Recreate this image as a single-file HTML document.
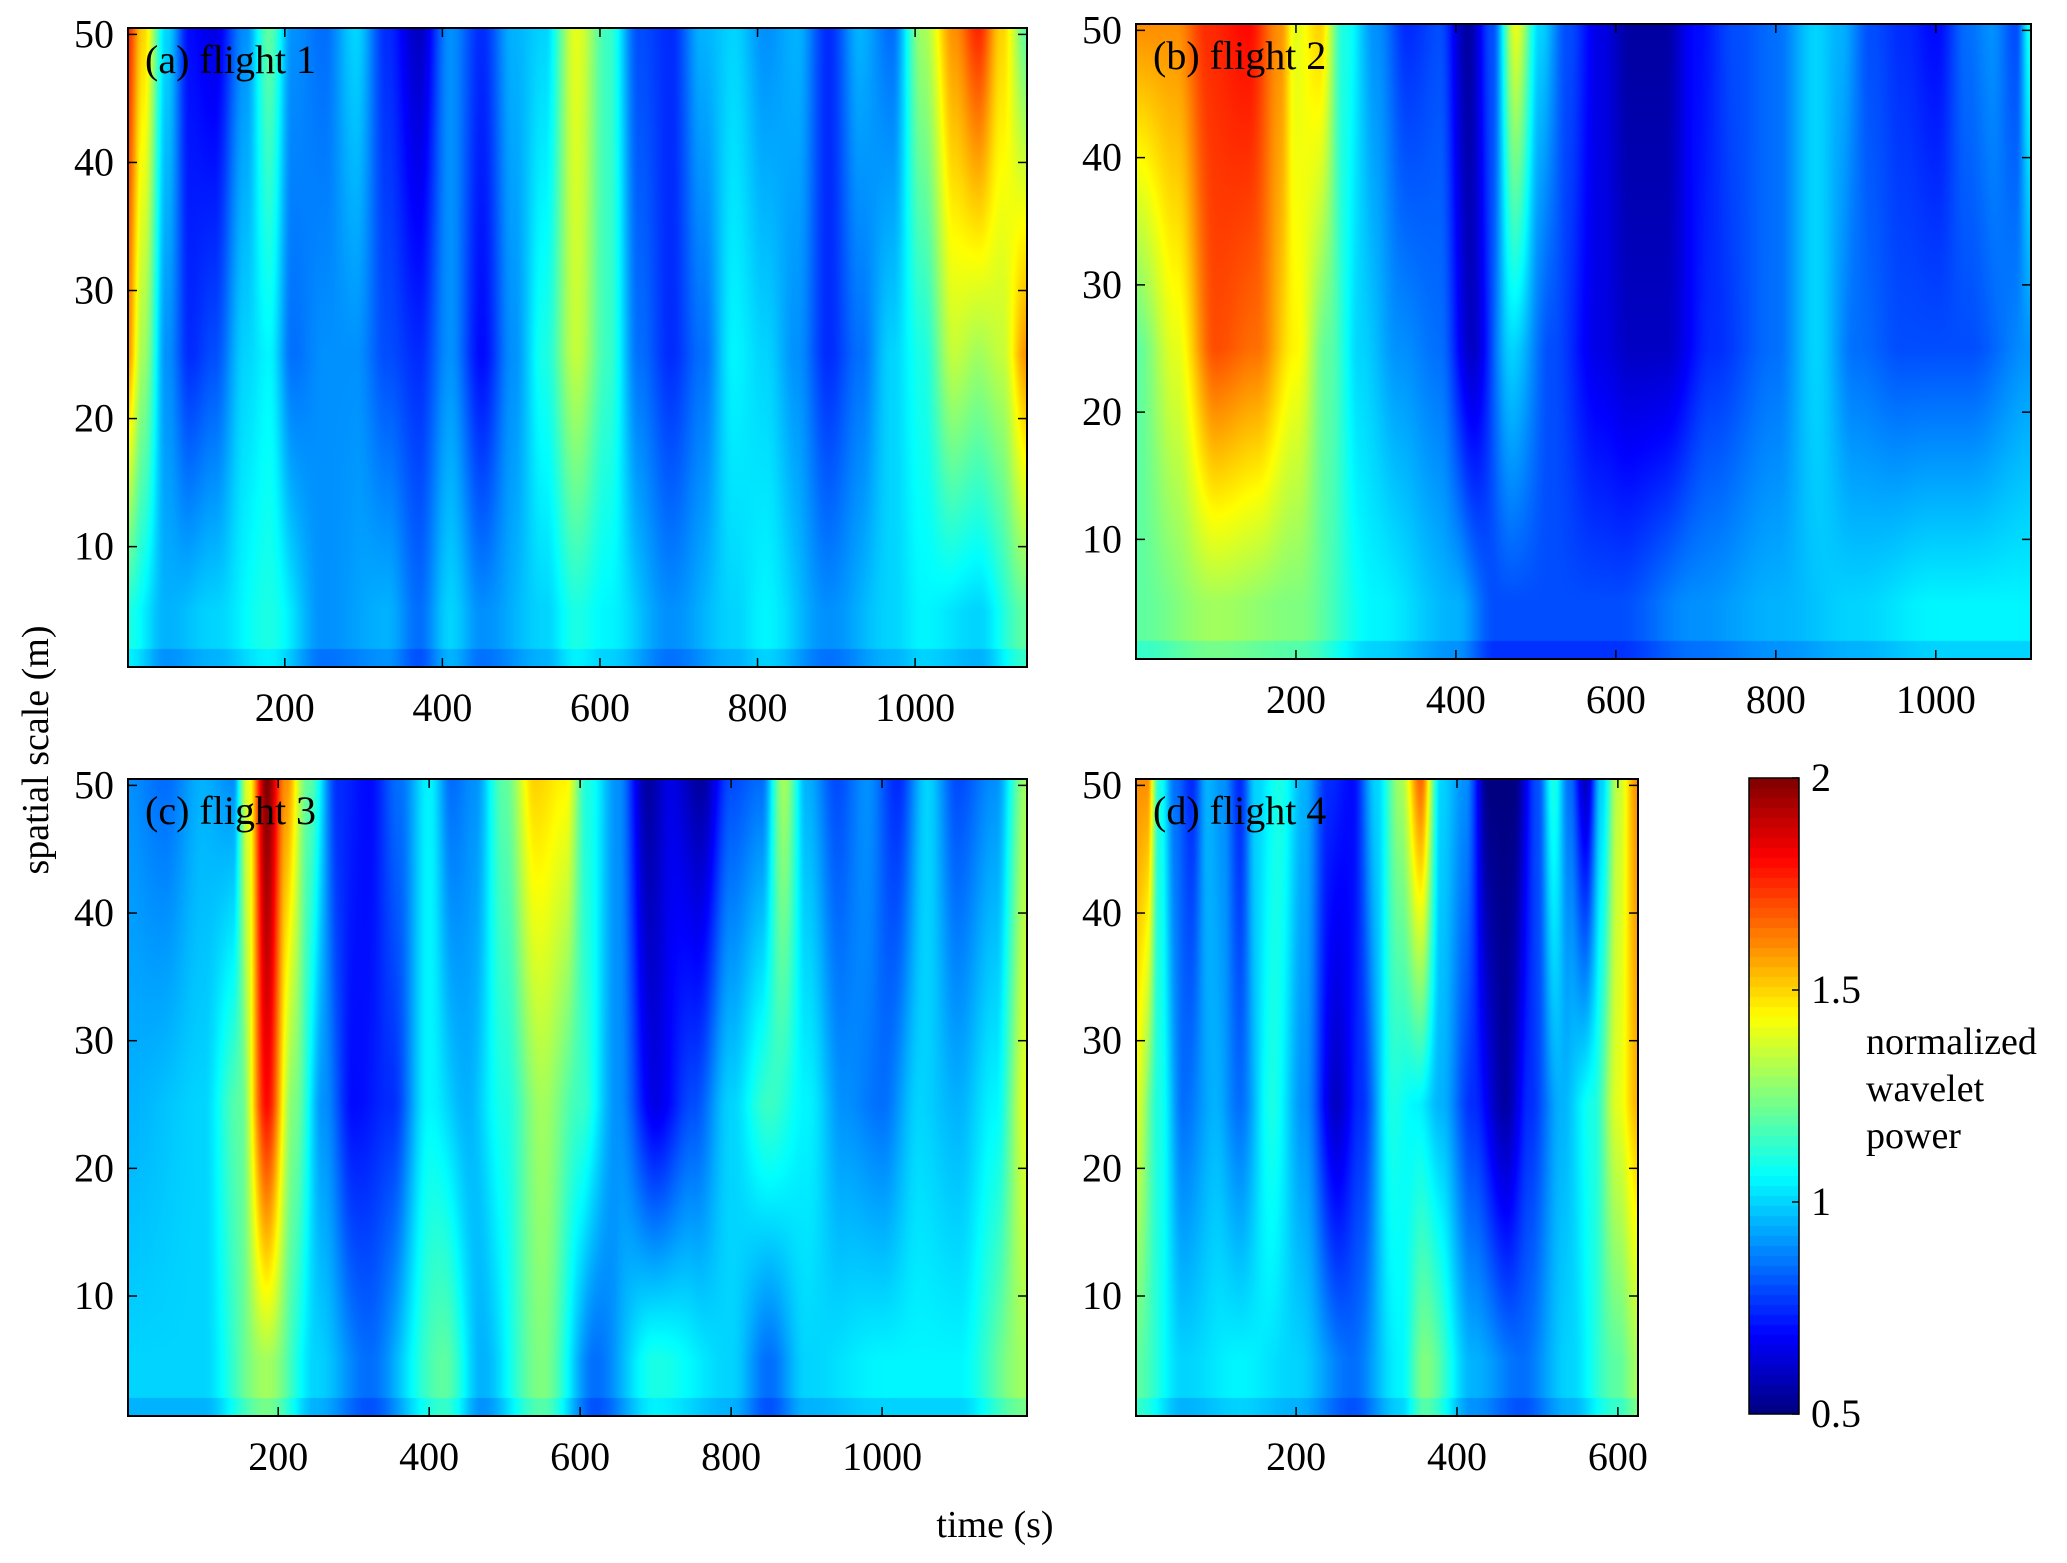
<!DOCTYPE html>
<html><head><meta charset="utf-8"><style>
body{margin:0;background:#fff;width:2067px;height:1563px;overflow:hidden;position:relative;font-family:"Liberation Serif",serif}
canvas{position:absolute}
svg{position:absolute;left:0;top:0;font-family:"Liberation Serif",serif}
</style></head><body>
<canvas id="ca"></canvas>
<canvas id="cb"></canvas>
<canvas id="cc"></canvas>
<canvas id="cd"></canvas>
<canvas id="cbar"></canvas>
<svg id="ov" width="2067" height="1563" font-family="Liberation Serif, serif"></svg>
<script>
// rows: [time, normalized wavelet power] at scale 50 m (top), 25 m (mid), 5 m (low)
const aTop=[[0,1.75],[20,1.5],[50,1.0],[80,0.7],[110,0.65],[150,0.9],[180,1.2],[210,0.9],[250,0.85],[290,1.0],[330,0.75],[370,0.6],[410,0.9],[450,0.75],[490,0.95],[530,1.0],[570,1.4],[610,1.15],[650,0.8],[690,0.75],[730,0.95],[770,1.0],[810,0.9],[850,0.95],[890,0.75],[930,0.95],[970,0.85],[1010,1.3],[1050,1.6],[1080,1.75],[1110,1.5],[1142,1.2]];
const aMid=[[0,1.6],[20,1.3],[50,0.9],[80,0.75],[110,0.8],[150,1.0],[180,1.05],[210,0.85],[250,0.9],[290,0.9],[330,0.8],[370,0.75],[410,0.9],[450,0.7],[490,0.9],[530,1.1],[570,1.35],[610,1.15],[650,0.85],[690,0.75],[730,0.85],[770,1.05],[810,1.0],[850,0.9],[890,0.75],[930,0.85],[970,1.0],[1010,1.1],[1050,1.35],[1080,1.3],[1110,1.35],[1142,1.6]];
const aLow=[[0,1.1],[50,0.95],[110,1.0],[180,1.1],[250,0.9],[330,0.95],[370,0.85],[410,1.0],[450,0.9],[530,1.0],[570,1.1],[610,1.05],[690,0.9],[770,1.0],[810,1.05],[890,0.9],[970,1.0],[1010,1.05],[1080,1.0],[1142,1.2]];
const bTop=[[0,1.6],[50,1.6],[90,1.75],[140,1.8],[180,1.6],[200,1.4],[230,1.5],[260,1.1],[300,0.9],[340,0.75],[380,0.8],[415,0.55],[445,0.8],[475,1.4],[505,1.0],[540,0.8],[580,0.65],[620,0.55],[660,0.55],[700,0.7],[750,0.8],[800,0.85],[850,1.0],[880,0.95],[920,0.8],[960,0.75],[1000,0.7],[1040,0.85],[1070,0.9],[1100,0.8],[1119,1.1]];
const bMid=[[0,1.2],[50,1.4],[100,1.7],[150,1.65],[200,1.45],[240,1.2],[280,1.0],[330,0.9],[380,0.85],[420,0.6],[470,1.0],[520,0.8],[580,0.65],[620,0.6],[660,0.6],[720,0.75],[800,0.85],[850,1.0],[900,0.85],[960,0.8],[1040,0.8],[1119,0.9]];
const bLow=[[0,1.2],[100,1.3],[200,1.25],[300,1.05],[400,0.95],[450,0.8],[600,0.8],[700,0.9],[800,0.95],[900,1.0],[1000,1.05],[1119,1.05]];
const cTop=[[0,0.9],[50,0.85],[100,0.95],[140,0.9],[160,1.4],[185,2.0],[210,1.6],[240,1.2],[280,0.75],[320,0.7],[360,0.85],[400,1.05],[430,0.85],[460,0.9],[500,1.2],[540,1.5],[580,1.45],[610,1.1],[650,0.9],[690,0.55],[720,0.65],[760,0.55],[800,0.8],[840,0.85],[870,1.3],[900,0.95],[940,0.8],[980,0.9],[1020,0.75],[1060,1.0],[1100,0.8],[1150,0.9],[1192,1.3]];
const cMid=[[0,0.95],[100,1.0],[150,1.2],[185,1.8],[220,1.25],[260,0.9],[300,0.7],[350,0.75],[400,1.05],[450,0.95],[500,1.1],[550,1.3],[600,1.15],[650,0.9],[700,0.65],[750,0.8],[800,1.0],[850,1.15],[900,1.05],[950,0.9],[1000,0.85],[1050,1.0],[1100,0.95],[1150,1.05],[1192,1.4]];
const cLow=[[0,1.0],[100,1.0],[185,1.3],[250,1.0],[320,0.85],[420,1.2],[470,0.95],[550,1.25],[620,0.85],[700,1.1],[800,1.0],[850,0.85],[900,1.0],[1000,1.05],[1100,1.05],[1192,1.3]];
const dTop=[[0,1.6],[15,1.6],[30,1.1],[50,0.85],[70,0.75],[90,0.95],[110,0.9],[130,0.75],[150,1.0],[180,1.1],[210,0.95],[240,0.75],[270,0.7],[300,1.0],[330,1.3],[355,1.65],[380,1.0],[410,0.9],[440,0.5],[470,0.5],[500,0.8],[520,1.1],[540,0.85],[560,0.6],[580,1.0],[600,1.35],[625,1.6]];
const dMid=[[0,1.4],[30,1.1],[60,0.85],[100,0.95],[130,0.85],[170,1.1],[210,0.9],[250,0.6],[280,0.75],[320,1.1],[350,1.05],[380,0.95],[420,0.75],[460,0.55],[490,0.75],[530,0.95],[570,1.1],[600,1.4],[625,1.55]];
const dLow=[[0,1.2],[60,1.0],[130,1.05],[200,1.0],[270,0.85],[330,1.05],[360,1.25],[420,0.95],[480,0.85],[540,1.0],[600,1.2],[625,1.3]];
const xTicksA=[200,400,600,800,1000];
const xTicksD=[200,400,600];
const yTicks=[10,20,30,40,50];
const cbTicks=[0.5,1,1.5,2];

const panels=[
 {id:'ca',name:'flight-1',title:'(a) flight 1',L:128,R:1027,T:28,B:667,x0:1,x1:1142,rows:[aTop,aMid,aLow],xt:xTicksA},
 {id:'cb',name:'flight-2',title:'(b) flight 2',L:1136,R:2031,T:24,B:659,x0:0,x1:1119,rows:[bTop,bMid,bLow],xt:xTicksA},
 {id:'cc',name:'flight-3',title:'(c) flight 3',L:128,R:1027,T:779,B:1416,x0:1,x1:1192,rows:[cTop,cMid,cLow],xt:xTicksA},
 {id:'cd',name:'flight-4',title:'(d) flight 4',L:1136,R:1638,T:779,B:1416,x0:1,x1:625,rows:[dTop,dMid,dLow],xt:xTicksD}
];
const Y0=0.6,Y1=50.5,VMIN=0.5,VMAX=2;
function jet(v){let t=(v-VMIN)/(VMAX-VMIN);t=Math.max(0,Math.min(1,t));
 const f=x=>Math.max(0,Math.min(1,x));
 return [f(1.5-Math.abs(4*t-3)),f(1.5-Math.abs(4*t-2)),f(1.5-Math.abs(4*t-1))].map(c=>Math.round(c*255));}
function interp(arr,t){if(t<=arr[0][0])return arr[0][1];for(let i=1;i<arr.length;i++){if(t<=arr[i][0]){const a=arr[i-1],b=arr[i];const u=(t-a[0])/(b[0]-a[0]);const s=u*u*(3-2*u);return a[1]+(b[1]-a[1])*s;}}return arr[arr.length-1][1];}
function value(rows,t,s){const top=interp(rows[0],t),mid=interp(rows[1],t),low=interp(rows[2],t);
 if(s>=25)return mid+(top-mid)*(s-25)/25;
 if(s>=5)return low+(mid-low)*(s-5)/20;
 if(s<2)return low*0.95;
 return low;}
const NS='http://www.w3.org/2000/svg';const ov=document.getElementById('ov');
function el(tag,attrs,text){const e=document.createElementNS(NS,tag);for(const k in attrs)e.setAttribute(k,attrs[k]);if(text!==undefined)e.textContent=text;ov.appendChild(e);return e;}
panels.forEach(p=>{
 const W=p.R-p.L,H=p.B-p.T;const c=document.getElementById(p.id);
 c.width=W;c.height=H;c.style.left=p.L+'px';c.style.top=p.T+'px';
 const ctx=c.getContext('2d');const img=ctx.createImageData(W,H);
 const xs=t=>p.L+(t-p.x0)/(p.x1-p.x0)*W, ys=s=>p.B-(s-Y0)/(Y1-Y0)*H;
 for(let py=0;py<H;py++){const s=Y1-(py+0.5)/H*(Y1-Y0);
  for(let px=0;px<W;px++){const t=p.x0+(px+0.5)/W*(p.x1-p.x0);const col=jet(value(p.rows,t,s));const k=(py*W+px)*4;img.data[k]=col[0];img.data[k+1]=col[1];img.data[k+2]=col[2];img.data[k+3]=255;}}
 ctx.putImageData(img,0,0);
 let r=el('rect',{x:p.L,y:p.T,width:W,height:H,fill:'none',stroke:'#000','stroke-width':2});
 
 p.xt.forEach(v=>{const x=xs(v);
  el('line',{x1:x,x2:x,y1:p.B,y2:p.B-9,stroke:'#000','stroke-width':1.5});
  el('line',{x1:x,x2:x,y1:p.T,y2:p.T+9,stroke:'#000','stroke-width':1.5});
  const tx=el('text',{x:x,y:p.B+54,'font-size':40,'text-anchor':'middle'},String(v));
  });
 yTicks.forEach(v=>{const y=ys(v);
  el('line',{x1:p.L,x2:p.L+9,y1:y,y2:y,stroke:'#000','stroke-width':1.5});
  el('line',{x1:p.R,x2:p.R-9,y1:y,y2:y,stroke:'#000','stroke-width':1.5});
  const ty=el('text',{x:p.L-14,y:y+13,'font-size':40,'text-anchor':'end'},String(v));
  });
 const tt=el('text',{x:p.L+17,y:p.T+45,'font-size':40},p.title);
 
});
// colorbar
const CB={L:1749,R:1799,T:778,B:1414};
(function(){const c=document.getElementById('cbar');const W=CB.R-CB.L,H=CB.B-CB.T;c.width=W;c.height=H;c.style.left=CB.L+'px';c.style.top=CB.T+'px';
 const ctx=c.getContext('2d');const n=64;
 for(let i=0;i<n;i++){const v=VMIN+(i+0.5)/n*(VMAX-VMIN);const col=jet(v);ctx.fillStyle='rgb('+col+')';const y0=H-(i+1)/n*H;ctx.fillRect(0,Math.floor(y0),W,Math.ceil(H/n)+1);}
 const f=el('rect',{x:CB.L,y:CB.T,width:W,height:H,fill:'none',stroke:'#000','stroke-width':1.5});
 
 cbTicks.forEach(v=>{const y=CB.B-(v-VMIN)/(VMAX-VMIN)*H;
  el('line',{x1:CB.R,x2:CB.R-7,y1:y,y2:y,stroke:'#000','stroke-width':1.5});
  const t=el('text',{x:CB.R+12,y:y+13,'font-size':40},String(v));
  });
})();
</script>
<svg width="2067" height="1563" font-family="Liberation Serif, serif" style="pointer-events:none">
 <text x="1866" y="1054" font-size="38">normalized</text>
 <text x="1866" y="1101" font-size="38">wavelet</text>
 <text x="1866" y="1148" font-size="38">power</text>
 <text x="0" y="0" font-size="38" text-anchor="middle" transform="translate(48,750) rotate(-90)">spatial scale (m)</text>
 <text x="995" y="1537" font-size="38" text-anchor="middle">time (s)</text>
</svg>
</body></html>
